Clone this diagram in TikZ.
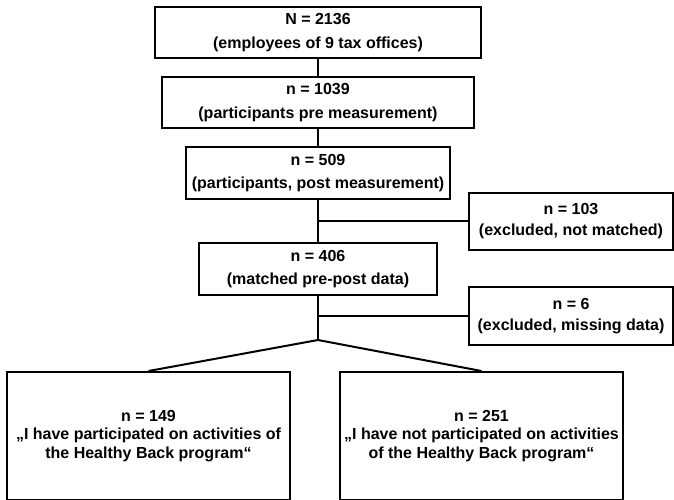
\documentclass[tikz,border=0pt]{standalone}
\usepackage{fontspec}
\setmainfont{Liberation Sans}
\usetikzlibrary{positioning,calc}

\tikzset{
  flowbox/.style={draw, line width=2pt, align=center, inner sep=0pt,
    font=\fontsize{16}{18.5}\selectfont\bfseries},
  link/.style={draw, line width=2pt}
}

\begin{document}
\begin{tikzpicture}[x=1pt,y=-1pt]
   \useasboundingbox (0,0) rectangle (674,499);
   \node[flowbox, minimum width=326, minimum height=51] (n1) at (318,32.5) {N = 2136\\[5pt](employees of 9 tax offices)};
   \node[flowbox, minimum width=312, minimum height=51] (n2) at (318,102.5) {n = 1039\\[5pt](participants pre measurement)};
   \node[flowbox, minimum width=264, minimum height=52] (n3) at (318,173) {n = 509\\[5pt](participants, post measurement)};
   \node[flowbox, minimum width=238, minimum height=52] (n4) at (318,269) {n = 406\\[5pt](matched pre-post data)};
   \node[flowbox, minimum width=204, minimum height=57] (e1) at (571,221) {n = 103\\[3pt](excluded, not matched)};
   \node[flowbox, minimum width=204, minimum height=58] (e2) at (571,316) {n = 6\\[3pt](excluded, missing data)};
   \node[flowbox, minimum width=283, minimum height=128] (b1) at (148.5,436) {n = 149\\„I have participated on activities of\\the Healthy Back program“};
   \node[flowbox, minimum width=283, minimum height=128] (b2) at (481.5,436) {n = 251\\„I have not participated on activities\\of the Healthy Back program“};
   \coordinate (j1) at (n3.south |- e1.west);
   \coordinate (j2) at (n4.south |- e2.west);
   \coordinate (sp) at (318,340);
   \draw[link] (n1) -- (n2);
   \draw[link] (n2) -- (n3);
   \draw[link] (n3) -- (n4);
   \draw[link] (j1) -- (e1.west);
   \draw[link] (n4.south) -- (sp);
   \draw[link] (j2) -- (e2.west);
   \draw[link] (b1.north) -- (sp) -- (b2.north);
\end{tikzpicture}
\end{document}
